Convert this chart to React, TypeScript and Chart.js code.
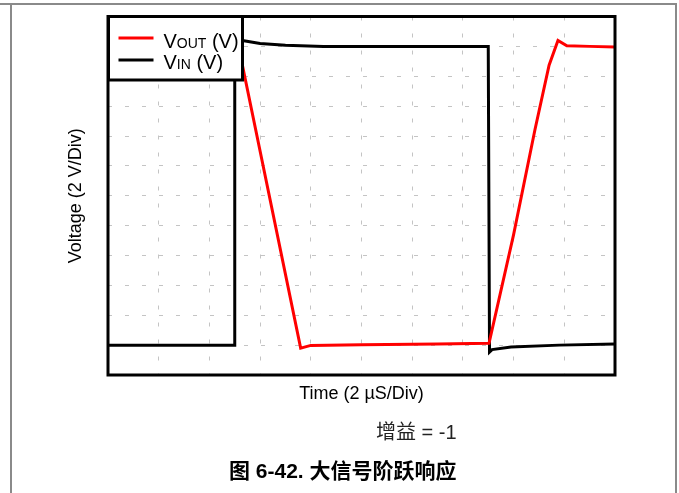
import React, { useEffect, useRef } from "react";
import { Chart, registerables } from "chart.js";

Chart.register(...registerables);

// Time in µs (2 µs/div), voltage in V (2 V/div)
const vOutTime = [0, 5.15, 7.6, 8.0, 10, 13, 15.03, 16.0, 16.84, 17.4, 17.75, 18.1, 19, 20];
const vOutVolts = [10.0, 10.0, -10.2, -10.02, -9.97, -9.92, -9.88, -2.6, 4.4, 8.74, 10.4, 10.04, 10.0, 9.95];
const vInTime = [0, 5.0, 5.0, 5.3, 6.0, 7.0, 8.5, 15.0, 15.05, 15.15, 15.9, 17.8, 20];
const vInVolts = [-10, -10, 10.5, 10.4, 10.2, 10.08, 10.0, 10.0, -10.46, -10.3, -10.13, -10.0, -9.93];

const seriesLabels = ["VOUT (V)", "VIN (V)"];
const seriesColors = ["#ff0000", "#000000"];
const xTitle = "Time (2 µS/Div)";
const yTitle = "Voltage (2 V/Div)";
const xMin = 0, xMax = 20, xStep = 2;
const yMin = -12, yMax = 12, yStep = 2;
const gainText = "增益 = -1";
const captionText = "图 6-42. 大信号阶跃响应";

const FONT = '"Liberation Sans", Arial, "Noto Sans CJK SC", sans-serif';

const toPoints = (xs: number[], ys: number[]) => xs.map((x, i) => ({ x, y: ys[i] }));

const framePlugin = {
  id: "frameAndLegend",
  afterDatasetsDraw(chart: any) {
    const { ctx, chartArea } = chart;
    const { left, top, right, bottom } = chartArea;
    ctx.save();
    ctx.strokeStyle = "#000";
    ctx.lineWidth = 3;
    ctx.strokeRect(left, top, right - left, bottom - top);

    // custom legend with subscripts
    const lx = left + 0.5, ly = top, lw = 134, lh = 63.5;
    ctx.fillStyle = "#fff";
    ctx.fillRect(lx, ly, lw, lh);
    ctx.strokeRect(lx, ly, lw, lh);

    const entries = [
      { main: "V", sub: "OUT", rest: " (V)", color: seriesColors[0], lineY: ly + 21.5, base: ly + 31 },
      { main: "V", sub: "IN", rest: " (V)", color: seriesColors[1], lineY: ly + 43.5, base: ly + 52 },
    ];
    entries.forEach((e) => {
      ctx.strokeStyle = e.color;
      ctx.lineWidth = 3;
      ctx.beginPath();
      ctx.moveTo(lx + 10, e.lineY);
      ctx.lineTo(lx + 45, e.lineY);
      ctx.stroke();
      ctx.fillStyle = "#000";
      ctx.textBaseline = "alphabetic";
      ctx.textAlign = "left";
      let x = lx + 55;
      ctx.font = `20px ${FONT}`;
      ctx.fillText(e.main, x, e.base);
      x += ctx.measureText(e.main).width;
      ctx.font = `14px ${FONT}`;
      ctx.fillText(e.sub, x, e.base + 0.5);
      x += ctx.measureText(e.sub).width;
      ctx.font = `20px ${FONT}`;
      ctx.fillText(e.rest, x, e.base);
    });
    ctx.restore();
  },
};

export default function App() {
  const canvasRef = useRef<HTMLCanvasElement | null>(null);

  useEffect(() => {
    const canvas = canvasRef.current;
    if (!canvas) return;
    const chart = new Chart(canvas, {
      type: "scatter",
      data: {
        datasets: [
          {
            label: seriesLabels[0],
            data: toPoints(vOutTime, vOutVolts),
            showLine: true,
            borderColor: seriesColors[0],
            backgroundColor: seriesColors[0],
            borderWidth: 3,
            pointRadius: 0,
            tension: 0,
          },
          {
            label: seriesLabels[1],
            data: toPoints(vInTime, vInVolts),
            showLine: true,
            borderColor: seriesColors[1],
            backgroundColor: seriesColors[1],
            borderWidth: 3,
            pointRadius: 0,
            tension: 0,
          },
        ],
      },
      options: {
        animation: false,
        responsive: false,
        devicePixelRatio: 1,
        layout: { padding: { top: 16.5, right: 64, left: 0, bottom: 0 } },
        plugins: { legend: { display: false }, tooltip: { enabled: false } },
        scales: {
          x: {
            type: "linear",
            min: xMin,
            max: xMax,
            ticks: { display: false, stepSize: xStep },
            grid: { color: "#c4c4c4", lineWidth: 1, drawTicks: false },
            border: { display: false, dash: [4, 13] },
            title: {
              display: true,
              text: xTitle,
              color: "#000",
              font: { size: 18, family: FONT },
              padding: { top: 0, bottom: 88 },
            },
            afterFit: (s: any) => {
              s.height = 118;
            },
          },
          y: {
            type: "linear",
            min: yMin,
            max: yMax,
            ticks: { display: false, stepSize: yStep },
            grid: { color: "#c4c4c4", lineWidth: 1, drawTicks: false },
            border: { display: false, dash: [4, 13] },
            title: {
              display: true,
              text: yTitle,
              color: "#000",
              font: { size: 18, family: FONT },
              padding: { top: 65, bottom: 0 },
            },
            afterFit: (s: any) => {
              s.width = 108;
            },
          },
        },
      },
      plugins: [framePlugin],
    });
    return () => chart.destroy();
  }, []);

  return (
    <div style={{ position: "absolute", left: 0, top: 0, width: 679, height: 493, background: "#fff", overflow: "hidden" }}>
      <div style={{ position: "absolute", left: 0, top: 3, width: 676, height: 1.5, background: "#8a8a8a" }} />
      <div style={{ position: "absolute", left: 10, top: 3, width: 2, height: 490, background: "#8a8a8a" }} />
      <div style={{ position: "absolute", left: 675, top: 3, width: 2, height: 490, background: "#8a8a8a" }} />
      <canvas ref={canvasRef} width={679} height={493} style={{ position: "absolute", left: 0, top: 0 }} />
      <div
        style={{
          position: "absolute",
          left: 376,
          top: 422,
          fontFamily: FONT,
          fontSize: 20,
          lineHeight: "20px",
          color: "#222",
          whiteSpace: "nowrap",
        }}
      >
        {gainText}
      </div>
      <div
        style={{
          position: "absolute",
          left: 229,
          top: 460,
          fontFamily: FONT,
          fontSize: 21,
          fontWeight: "bold",
          lineHeight: "22px",
          color: "#000",
          whiteSpace: "nowrap",
        }}
      >
        {captionText}
      </div>
    </div>
  );
}
